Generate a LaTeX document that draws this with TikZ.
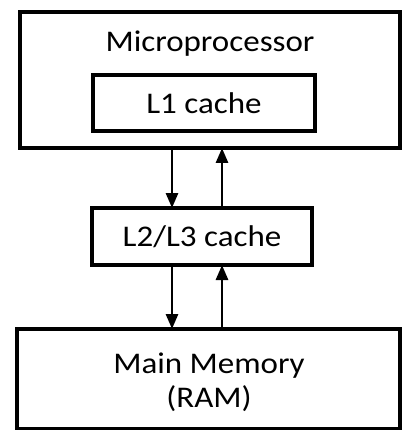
\documentclass[tikz,border=0pt]{standalone}
\usepackage{fontspec}
\setmainfont{Carlito}[FakeStretch=1.1]
\usetikzlibrary{arrows.meta}
\begin{document}
\begin{tikzpicture}[x=1pt,y=-1pt,
  box/.style={draw=black, line width=3.4pt, fill=white, inner sep=0pt, outer sep=0pt},
  lbl/.style={font=\fontsize{30}{34}\selectfont, inner sep=0pt, align=center},
  arr/.style={line width=2.8pt, -{Triangle[length=15pt,width=12pt]}}]
\useasboundingbox (0,0) rectangle (401,430);
\node[box, minimum width=380pt, minimum height=136pt] (cpu) at (210,80) {};
\node[lbl, anchor=base] (cputxt) at (210,52) {Microprocessor};
\node[box, minimum width=222pt, minimum height=56pt] (l1) at (204,103) {};
\node[lbl] (l1txt) at (l1.center) {L1 cache};
\node[box, minimum width=220pt, minimum height=57pt] (l2) at (202,236.5) {};
\node[lbl] (l2txt) at (l2.center) {L2/L3 cache};
\node[box, minimum width=383pt, minimum height=100pt] (mem) at (208.5,379) {};
\node[lbl, anchor=base] (memtxt) at (209,373) {Main Memory};
\node[lbl, anchor=base] (ramtxt) at (209,407) {(RAM)};
\coordinate (dx) at (172,0);
\coordinate (ux) at (222,0);
\draw[arr] (dx |- cpu.south) -- (dx |- l2.north);
\draw[arr] (ux |- l2.north) -- (ux |- cpu.south);
\draw[arr] (dx |- l2.south) -- (dx |- mem.north);
\draw[arr] (ux |- mem.north) -- (ux |- l2.south);
\end{tikzpicture}
\end{document}
